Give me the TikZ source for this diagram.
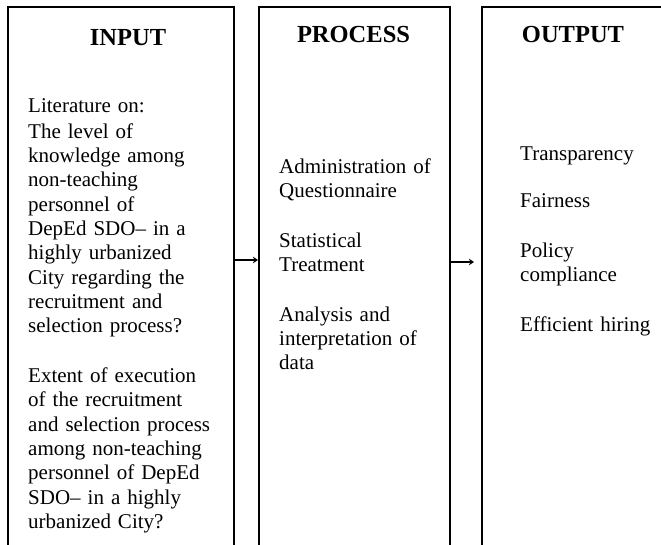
\documentclass[tikz,border=0pt]{standalone}
\usepackage{fontspec}
\setmainfont{Liberation Serif}
\usetikzlibrary{arrows.meta}

\tikzset{
  boite/.style={draw, line width=1.6pt, rectangle, anchor=north west, inner sep=0pt},
  titre/.style={anchor=base, inner sep=0pt, font=\fontsize{24.5}{28}\selectfont\bfseries},
  texte/.style={anchor=base west, inner sep=0pt, align=left, text width=210pt,
                font=\fontsize{21}{24.3}\selectfont},
  fleche/.style={line width=2.2pt, -{Stealth[length=5pt,width=6.5pt]}}
}

\begin{document}
\begin{tikzpicture}[x=1pt,y=-1pt]  % ------ Input / Process / Output --------
    \useasboundingbox (0,0) rectangle (661,544);
    \clip (0,0) rectangle (661,544);
    % les trois cadres (le bas sort de l'image)
    \node[boite, minimum width=226pt, minimum height=560pt] (input) at (7,6) {};
    \node[boite, minimum width=191pt, minimum height=560pt] (process) at (258,6) {};
    \node[boite, minimum width=184pt, minimum height=560pt] (output) at (481,6) {};
    % titres
    \node[titre] (tin) at (128,45) {INPUT};
    \node[titre] (tpro) at (353.5,42) {PROCESS};
    \node[titre] (tout) at (573,42) {OUTPUT};
    % textes
    \node[texte] (lit) at (28,112) {Literature on:\\[2pt]
      The level of\\ knowledge among\\ non-teaching\\ personnel of\\
      DepEd SDO– in a\\ highly urbanized\\ City regarding the\\
      recruitment and\\ selection process?\\[25.5pt]
      Extent of execution\\ of the recruitment\\ and selection process\\
      among non-teaching\\ personnel of DepEd\\ SDO– in a highly\\
      urbanized City?};
    \node[texte] (etapes) at (279,173) {Administration of\\ Questionnaire\\[25.5pt]
      Statistical\\ Treatment\\[25.5pt]
      Analysis and\\ interpretation of\\ data};
    \node[texte] (effets) at (520,160) {Transparency\\[23.5pt]
      Fairness\\[25.5pt]
      Policy\\ compliance\\[25.5pt]
      Efficient hiring};
    % fleches
    \coordinate (f1) at (0,260);
    \coordinate (f2) at (0,262);
    \draw[fleche] (input.east |- f1) -- (process.west |- f1);
    \draw[fleche, shorten >=7pt] (process.east |- f2) -- (output.west |- f2);
\end{tikzpicture}
\end{document}
